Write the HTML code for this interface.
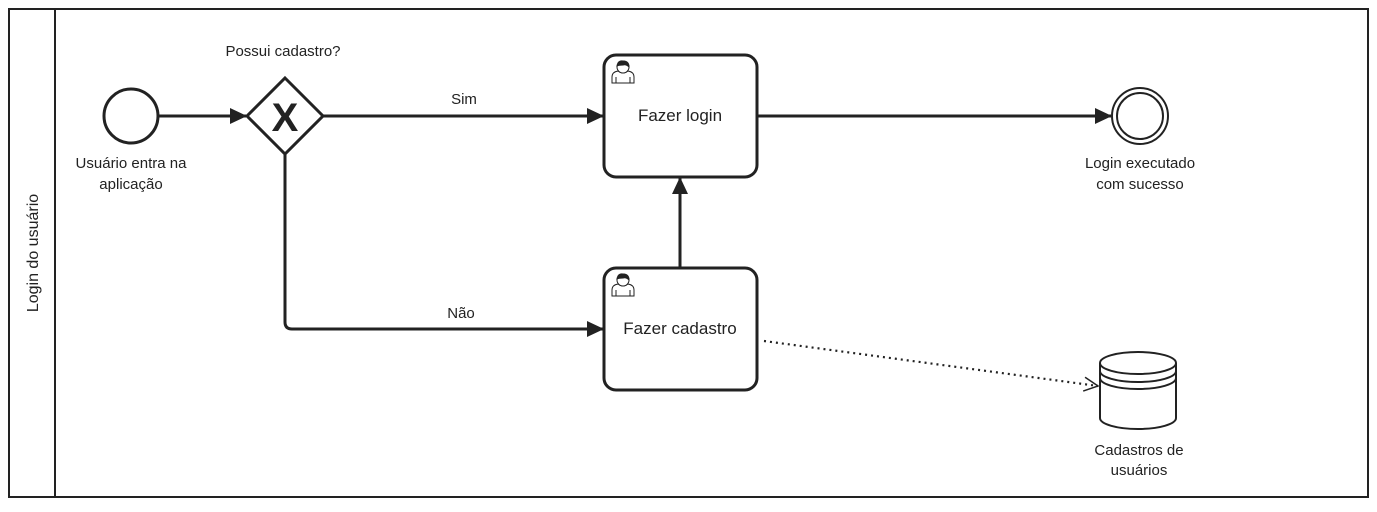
<!DOCTYPE html>
<html><head><meta charset="utf-8"><style>
html,body{margin:0;padding:0;background:#fff;}
svg{display:block;}
text{font-family:"Liberation Sans",Arial,sans-serif;fill:#222;}
</style></head><body>
<svg width="1377" height="512" viewBox="0 0 1377 512" xmlns="http://www.w3.org/2000/svg">
<defs>
<marker id="a" markerWidth="18" markerHeight="16" refX="16" refY="8" orient="auto" markerUnits="userSpaceOnUse"><path d="M0,0 L17,8 L0,16 Z" fill="#222"/></marker>
<marker id="o" markerWidth="16" markerHeight="16" refX="15" refY="8" orient="auto" markerUnits="userSpaceOnUse"><path d="M1,1 L15,8 L1,15" fill="none" stroke="#222" stroke-width="1.5"/></marker>
</defs>
<rect x="9" y="9" width="1359" height="488" fill="#fff" stroke="#222" stroke-width="2"/>
<line x1="55" y1="9" x2="55" y2="497" stroke="#222" stroke-width="2"/>
<text x="38" y="253" font-size="16" text-anchor="middle" transform="rotate(-90 38 253)">Login do usuário</text>

<circle cx="131" cy="116" r="27" fill="#fff" stroke="#222" stroke-width="3"/>
<text x="131" y="168" font-size="15" text-anchor="middle">Usuário entra na</text>
<text x="131" y="189" font-size="15" text-anchor="middle">aplicação</text>
<line x1="158" y1="116" x2="246" y2="116" stroke="#222" stroke-width="3" marker-end="url(#a)"/>

<path d="M285,78 L323,116 L285,154 L247,116 Z" fill="#fff" stroke="#222" stroke-width="3"/>
<text x="285" y="131" font-size="40" font-weight="bold" text-anchor="middle">X</text>
<text x="283" y="56" font-size="15" text-anchor="middle">Possui cadastro?</text>

<line x1="323" y1="116" x2="603" y2="116" stroke="#222" stroke-width="3" marker-end="url(#a)"/>
<text x="464" y="104" font-size="15" text-anchor="middle">Sim</text>
<path d="M285,154 L285,322 Q285,329 292,329 L603,329" fill="none" stroke="#222" stroke-width="3" marker-end="url(#a)"/>
<text x="461" y="318" font-size="15" text-anchor="middle">Não</text>

<rect x="604" y="55" width="153" height="122" rx="12" fill="#fff" stroke="#222" stroke-width="3"/>
<g transform="translate(610,60)" stroke="#222" fill="none" stroke-width="1">
<path d="M2,23 L2,17 Q2,12 8,11 Q13,15 18,11 Q24,12 24,17 L24,23 Z" fill="#fff"/>
<circle cx="13" cy="7" r="6" fill="#fff"/>
<path d="M7,6 Q8,0 13,1 Q19,1 19,7 Q16,4 13,5 Q9,5 7,6 Z" fill="#222"/>
<path d="M6,23 L6,17 M20,23 L20,17"/>
</g>
<text x="680" y="121" font-size="17" text-anchor="middle">Fazer login</text>

<rect x="604" y="268" width="153" height="122" rx="12" fill="#fff" stroke="#222" stroke-width="3"/>
<g transform="translate(610,273)" stroke="#222" fill="none" stroke-width="1">
<path d="M2,23 L2,17 Q2,12 8,11 Q13,15 18,11 Q24,12 24,17 L24,23 Z" fill="#fff"/>
<circle cx="13" cy="7" r="6" fill="#fff"/>
<path d="M7,6 Q8,0 13,1 Q19,1 19,7 Q16,4 13,5 Q9,5 7,6 Z" fill="#222"/>
<path d="M6,23 L6,17 M20,23 L20,17"/>
</g>
<text x="680" y="334" font-size="17" text-anchor="middle">Fazer cadastro</text>

<line x1="680" y1="268" x2="680" y2="178" stroke="#222" stroke-width="3" marker-end="url(#a)"/>
<line x1="757" y1="116" x2="1111" y2="116" stroke="#222" stroke-width="3" marker-end="url(#a)"/>

<circle cx="1140" cy="116" r="28" fill="#fff" stroke="#222" stroke-width="2"/>
<circle cx="1140" cy="116" r="23" fill="#fff" stroke="#222" stroke-width="2"/>
<text x="1140" y="168" font-size="15" text-anchor="middle">Login executado</text>
<text x="1140" y="189" font-size="15" text-anchor="middle">com sucesso</text>

<line x1="764" y1="341" x2="1098" y2="386" stroke="#222" stroke-width="2.2" stroke-dasharray="2,4" marker-end="url(#o)"/>

<path d="M1100,363 L1100,418 A38,11 0 0 0 1176,418 L1176,363" fill="#fff" stroke="#222" stroke-width="2"/>
<ellipse cx="1138" cy="363" rx="38" ry="11" fill="#fff" stroke="#222" stroke-width="2"/>
<path d="M1100,371 A38,11 0 0 0 1176,371 M1100,378 A38,11 0 0 0 1176,378" fill="none" stroke="#222" stroke-width="2"/>
<text x="1139" y="455" font-size="15" text-anchor="middle">Cadastros de</text>
<text x="1139" y="475" font-size="15" text-anchor="middle">usuários</text>
</svg>
</body></html>
